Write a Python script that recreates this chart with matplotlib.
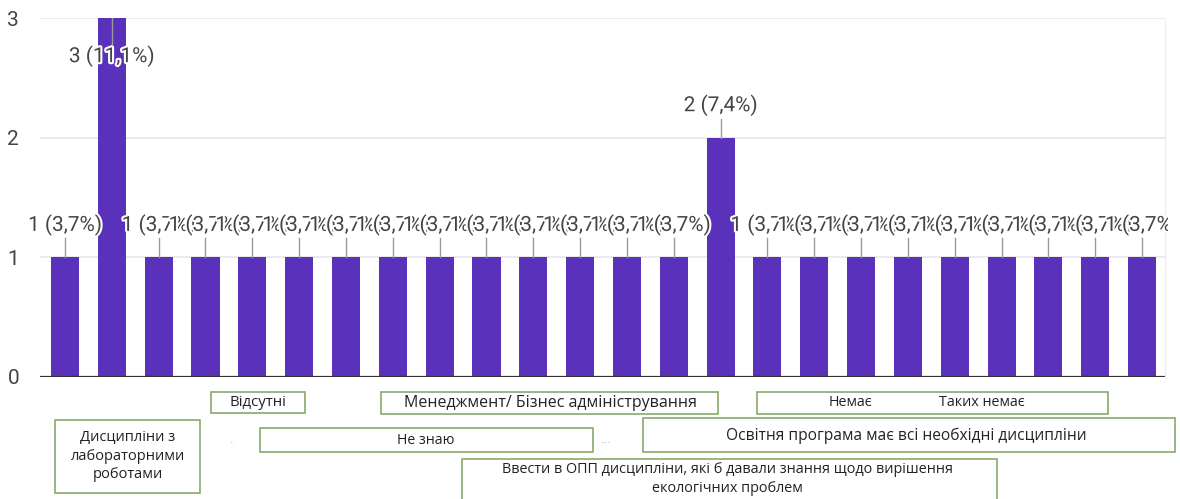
import matplotlib.pyplot as plt
import matplotlib.patheffects as pe
from matplotlib.patches import Rectangle

# значення стовпців (кількість відповідей)
values = [1, 3, 1, 1, 1, 1, 1, 1, 1, 1, 1, 1, 1, 1, 2, 1, 1, 1, 1, 1, 1, 1, 1, 1]
total = sum(values)
y_ticks = [0, 1, 2, 3]

# підписи відповідей (наклеєні рамки під віссю)
answers = [
    "Відсутні",
    "Менеджмент/ Бізнес адміністрування",
    "Немає",
    "Таких немає",
    "Дисципліни з\nлабораторними\nроботами",
    "Не знаю",
    "Освітня програма має всі необхідні дисципліни",
    "Ввести в ОПП дисципліни, які б давали знання щодо вирішення\nекологічних проблем",
]

W, H = 1180, 499
BAR = "#5a31bb"
GREEN = "#7fa35c"
TXT = "#444444"
NUM_FONT = ["Roboto", "DejaVu Sans"]
BOX_FONT = ["Open Sans", "DejaVu Sans"]

fig = plt.figure(figsize=(W / 100, H / 100), dpi=100)


def fx(x):
    return x / W


def fy(y):
    return 1 - y / H


ax = fig.add_axes([fx(40), fy(377), fx(1165) - fx(40), fy(18) - fy(377)])
x = list(range(len(values)))
ax.bar(x, values, width=0.6, color=BAR, zorder=2)
ax.set_xlim(-0.534, 23.49)
ax.set_ylim(0, 3)
ax.set_yticks(y_ticks)
ax.set_yticklabels([str(t) for t in y_ticks], family=NUM_FONT, fontsize=15, color=TXT)
ax.tick_params(axis="y", length=0, pad=15)
ax.set_xticks([])
for t in y_ticks[1:]:
    ax.axhline(t, color="#e6e6e6", lw=1.2, zorder=0)
ax.axhline(0, color="#333333", lw=1.6, zorder=3)
for s in ["top", "left", "bottom"]:
    ax.spines[s].set_visible(False)
ax.spines["right"].set_color("#eeeeee")

clip = Rectangle((0, 0), fx(1168), 1, transform=fig.transFigure)
vmax = max(values)
for i, v in enumerate(values):
    pct = f"{v / total * 100:.1f}".replace(".", ",")
    if v == vmax:
        ty, l0, l1 = v - 0.32, v, v - 0.22
    else:
        ty, l0, l1 = v + 0.27, v, v + 0.16
    ax.plot([i, i], [l0, l1], color="#9a9a9a", lw=1, zorder=3)
    t = ax.text(i, ty, f"{v} ({pct}%)", ha="center", va="center", fontsize=15,
                family=NUM_FONT, color=TXT, zorder=4,
                path_effects=[pe.withStroke(linewidth=3, foreground="white")])
    t.set_clip_path(clip)
    t.set_clip_on(True)

# рамки з підписами (x0, y0, x1, y1 у пікселях від верхнього краю)
boxes = [
    (211, 392, 305, 413),
    (381, 392, 718, 414),
    (757, 392, 1108, 414),
    (55, 420, 200, 493),
    (260, 428, 593, 452),
    (643, 418, 1175, 452),
    (462, 459, 997, 505),
]
for x0, y0, x1, y1 in boxes:
    fig.patches.append(Rectangle((fx(x0), fy(y1)), fx(x1) - fx(x0), fy(y0) - fy(y1),
                                 transform=fig.transFigure, facecolor="white",
                                 edgecolor=GREEN, lw=1.1))

label_pos = [(258, 403, 10.8), (550, 403, 11.5), (850, 403, 10.3), (982, 403, 10.3),
             (128, 456, 10.5), (426, 440, 10.2), (906, 436, 11.2), (727, 479, 10.4)]
for txt, (px, py, fs) in zip(answers, label_pos):
    fig.text(fx(px), fy(py), txt, ha="center", va="center", fontsize=fs,
             family=BOX_FONT, color="#222222", linespacing=1.3)

fig.text(fx(232), fy(440), ".", ha="center", va="center", fontsize=8, color="#aaaaaa")
fig.text(fx(606), fy(440), "...", ha="center", va="center", fontsize=8, color="#aaaaaa")

fig.savefig("out.png", dpi=100)
